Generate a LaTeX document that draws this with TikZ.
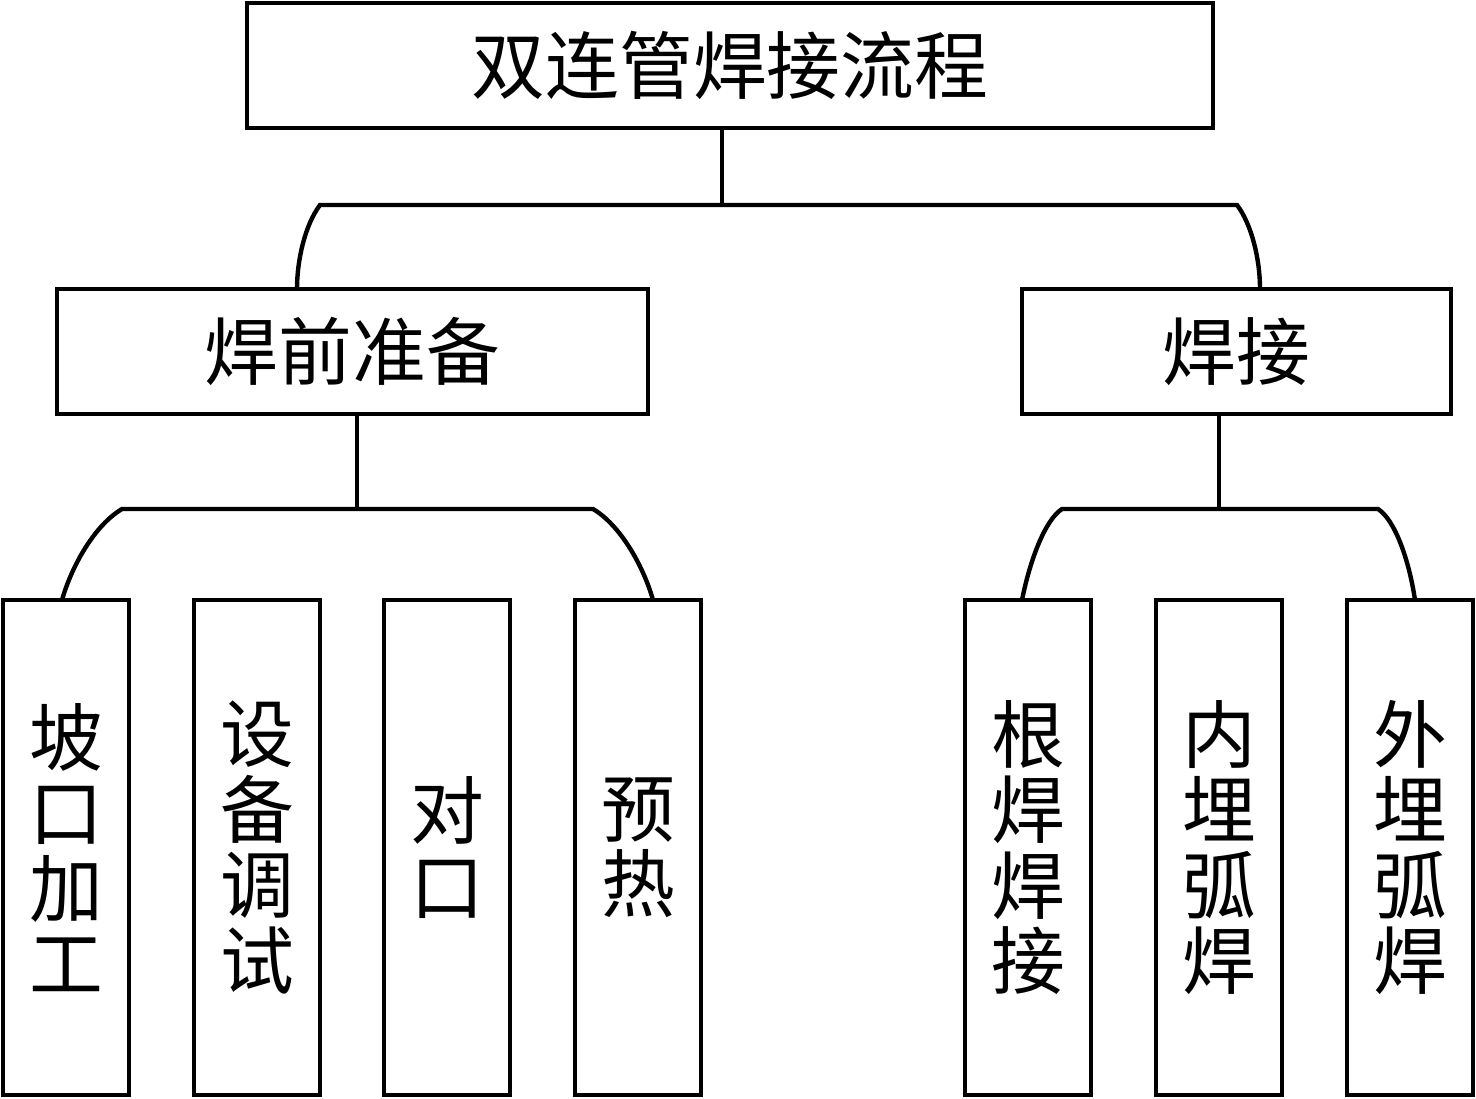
\documentclass[tikz,border=0pt]{standalone}
\usepackage{fontspec}
\newfontfamily\cjk{Noto Sans CJK SC}
\usetikzlibrary{calc}

\tikzset{
  box/.style={draw, line width=2.5pt, inner sep=0pt, font=\cjk\fontsize{42}{43}\selectfont, align=center},
  tallbox/.style={box, minimum width=126*0.02cm, minimum height=495*0.02cm},
  link/.style={line width=2.5pt}
}

\begin{document}
\begin{tikzpicture}[x=0.02cm, y=-0.02cm]
        \useasboundingbox (0,0) rectangle (1476,1098);

        % Top box
        \node[box, minimum width=966*0.02cm, minimum height=125*0.02cm] (flow) at (730,65.5) {双连管焊接流程};

        % Middle boxes
        \node[box, minimum width=591*0.02cm, minimum height=125*0.02cm] (prep) at (352.5,351.5) {焊前准备};
        \node[box, minimum width=429*0.02cm, minimum height=125*0.02cm] (weld) at (1236.5,351.5) {焊接};

        % Bottom boxes, preparation
        \node[tallbox] (bevel) at (66,847.5) {坡\\口\\加\\工};
        \node[tallbox] (setup) at (257,847.5) {设\\备\\调\\试};
        \node[tallbox] (align) at (447,847.5) {对\\口};
        \node[tallbox] (heat)  at (638,847.5) {预\\热};

        % Bottom boxes, welding
        \node[tallbox] (root)  at (1028,847.5) {根\\焊\\焊\\接};
        \node[tallbox] (inner) at (1219,847.5) {内\\埋\\弧\\焊};
        \node[tallbox] (outer) at (1410,847.5) {外\\埋\\弧\\焊};

        % Branch points
        \coordinate (j0) at (722,205);
        \coordinate (j1) at (357,509);
        \coordinate (j2) at (1219,509);

        % Top level connector
        \draw[link] (j0 |- flow.south) -- (j0);
        \draw[link] (297,289) .. controls (297,260) and (305,225) .. (320,205) -- (1237,205)
                    .. controls (1252,225) and (1260,260) .. (1260,289);

        % Preparation connector
        \draw[link] (j1 |- prep.south) -- (j1);
        \draw[link] (62,600) .. controls (72,565) and (95,525) .. (122,509) -- (593,509)
                    .. controls (620,525) and (643,565) .. (653,600);

        % Welding connector
        \draw[link] (j2 |- weld.south) -- (j2);
        \draw[link] (1022,600) .. controls (1030,560) and (1045,520) .. (1062,509) -- (1378,509)
                    .. controls (1395,520) and (1409,560) .. (1415,600);
    \end{tikzpicture}
\end{document}
